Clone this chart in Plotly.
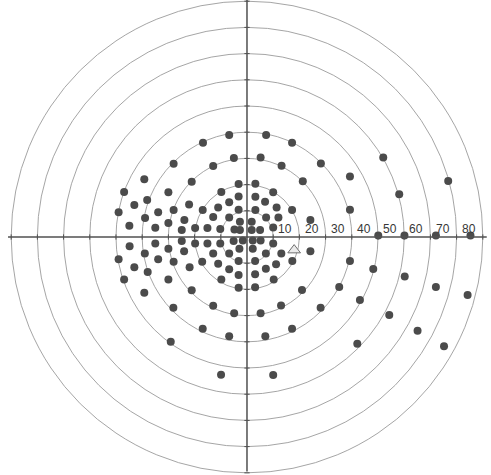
import plotly.graph_objects as go

# Test-point locations in degrees of visual angle (x: horizontal, y: vertical)
upper_left_x = [-6.8, -16.8, -5.0, -12.9, -28.0, -39.2, -21.1, -3.2, -46.9, -30.0, -9.8, -38.1,
                -3.2, -43.0, -22.1, -6.8, -11.0, -3.2, -49.0, -33.9, -28.0, -16.9, -38.9, -23.9,
                -12.9, -6.8, -44.9, -35.0, -30.0, -24.9, -19.8, -15.1, -10.2, -4.8]
upper_left_y = [38.9, 36.0, 30.2, 27.1, 28.0, 22.0, 21.1, 20.2, 17.2, 17.1, 17.2, 14.1,
                15.5, 12.2, 12.4, 13.3, 11.3, 10.4, 9.4, 9.4, 10.3, 10.3, 7.3, 6.5,
                7.6, 7.4, 4.3, 3.5, 5.3, 2.7, 3.4, 3.4, 3.1, 2.9]

upper_right_x = [7.3, 17.2, 5.2, 13.2, 28.2, 52.0, 39.3, 21.3, 76.8, 58.1, 3.2, 10.0,
                 3.2, 6.9, 11.3, 3.2, 17.2, 39.3, 24.2, 7.3, 12.0, 10.0,
                 50.1, 60.1, 72.1, 85.3]
upper_right_y = [38.9, 36.0, 30.3, 27.2, 28.1, 30.3, 23.1, 21.3, 21.4, 16.3, 20.3, 17.1,
                 15.4, 13.5, 11.3, 10.3, 10.3, 10.4, 6.5, 7.4, 7.4, 3.6,
                 0.6, 0.6, 0.6, 0.6]

lower_left_x = [-44.8, -35.0, -30.0, -24.9, -19.8, -15.1, -10.2, -5.1, -2.9, -49.0, -39.0, -33.9,
                -28.0, -24.0, -17.1, -12.9, -6.8, -11.0, -3.2, -43.0, -37.9, -21.9, -6.8, -46.9,
                -30.0, -9.8, -3.2, -3.2, -39.2, -21.1, -28.1, -12.9, -4.9, -16.9, -6.8, -29.1,
                -9.9]
lower_left_y = [-3.5, -2.5, -4.5, -1.5, -2.5, -2.5, -2.5, -1.5, -4.5, -8.5, -6.3, -8.5,
                -9.4, -5.4, -9.4, -6.3, -6.3, -10.2, -9.2, -11.5, -13.4, -11.5, -12.3, -16.2,
                -16.2, -16.2, -14.5, -19.4, -21.3, -20.3, -27.0, -26.2, -29.1, -35.0, -37.9, -40.0,
                -52.6]

lower_right_x = [10.0, 7.2, 13.1, 24.2, 3.1, 11.1, 17.3, 39.3, 7.2, 3.1, 10.2, 3.1,
                 21.0, 35.2, 48.2, 60.2, 72.1, 84.2, 43.1, 13.0, 28.1, 54.3, 65.1, 75.2,
                 5.2, 17.2, 7.0, 42.1, 10.0]
lower_right_y = [-2.5, -6.3, -6.3, -5.4, -9.2, -10.4, -9.2, -9.2, -12.1, -14.2, -16.2, -19.2,
                 -20.2, -19.1, -12.2, -15.1, -19.1, -22.1, -24.0, -26.1, -27.0, -29.8, -35.8, -41.7,
                 -29.1, -35.0, -37.9, -40.7, -52.7]

central_x = [-2.7, 1.8, -2.7, 1.8, 5.0, -1.6, 2.2, 5.2, 2.2]
central_y = [5.8, 5.8, 2.7, 2.7, 2.7, -1.3, -1.3, -1.3, -4.5]

# Blind-spot marker
blind_spot_x = [18.0]
blind_spot_y = [-5.0]

# Isopter rings and their labels
ring_radii = [10, 20, 30, 40, 50, 60, 70, 80, 90]
ring_labels = ["10", "20", "30", "40", "50", "60", "70", "80"]

points_x = upper_left_x + upper_right_x + lower_left_x + lower_right_x + central_x
points_y = upper_left_y + upper_right_y + lower_left_y + lower_right_y + central_y

ring_color = "rgb(155,155,155)"
axis_color = "rgb(80,80,80)"
dot_color = "rgb(75,75,75)"

shapes = []
for r in ring_radii:
    shapes.append(dict(type="circle", xref="x", yref="y", x0=-r, x1=r, y0=-r, y1=r,
                       line=dict(color=ring_color, width=0.9), layer="below"))

# Meridian axes
shapes.append(dict(type="line", xref="x", yref="y", x0=-91.2, x1=91.5, y0=0, y1=0,
                   line=dict(color=axis_color, width=1.5)))
shapes.append(dict(type="line", xref="x", yref="y", x0=0, x1=0, y0=-89.5, y1=90.5,
                   line=dict(color=axis_color, width=1.5)))

# Small ticks where rings cross the meridians
for r in ring_radii:
    for s in (-1, 1):
        shapes.append(dict(type="line", xref="x", yref="y", x0=s * r, x1=s * r, y0=-1.0, y1=1.0,
                           line=dict(color=axis_color, width=1)))
        shapes.append(dict(type="line", xref="x", yref="y", x0=-1.0, x1=1.0, y0=s * r, y1=s * r,
                           line=dict(color=axis_color, width=1)))

annotations = []
for r, lab in zip(ring_radii, ring_labels):
    annotations.append(dict(x=r + 1.2, y=0, xref="x", yref="y", text=lab, showarrow=False,
                            xanchor="left", yanchor="bottom", yshift=-1,
                            font=dict(family="Liberation Sans, Arial, sans-serif", size=12,
                                      color="rgb(55,55,55)")))

fig = go.Figure()
fig.add_trace(go.Scatter(x=points_x, y=points_y, mode="markers",
                         marker=dict(size=8, color=dot_color), hoverinfo="skip",
                         showlegend=False))
fig.add_trace(go.Scatter(x=blind_spot_x, y=blind_spot_y, mode="markers",
                         marker=dict(size=11, symbol="triangle-up", color="rgb(235,235,235)",
                                     line=dict(color="rgb(110,110,110)", width=1)),
                         hoverinfo="skip", showlegend=False))

fig.update_layout(
    width=491, height=475,
    margin=dict(l=0, r=0, t=0, b=0),
    paper_bgcolor="white", plot_bgcolor="white",
    shapes=shapes, annotations=annotations,
    xaxis=dict(range=[-94.27, 93.13], visible=False, fixedrange=True),
    yaxis=dict(range=[-90.84, 90.46], visible=False, fixedrange=True),
)

fig.write_html("out.html")
